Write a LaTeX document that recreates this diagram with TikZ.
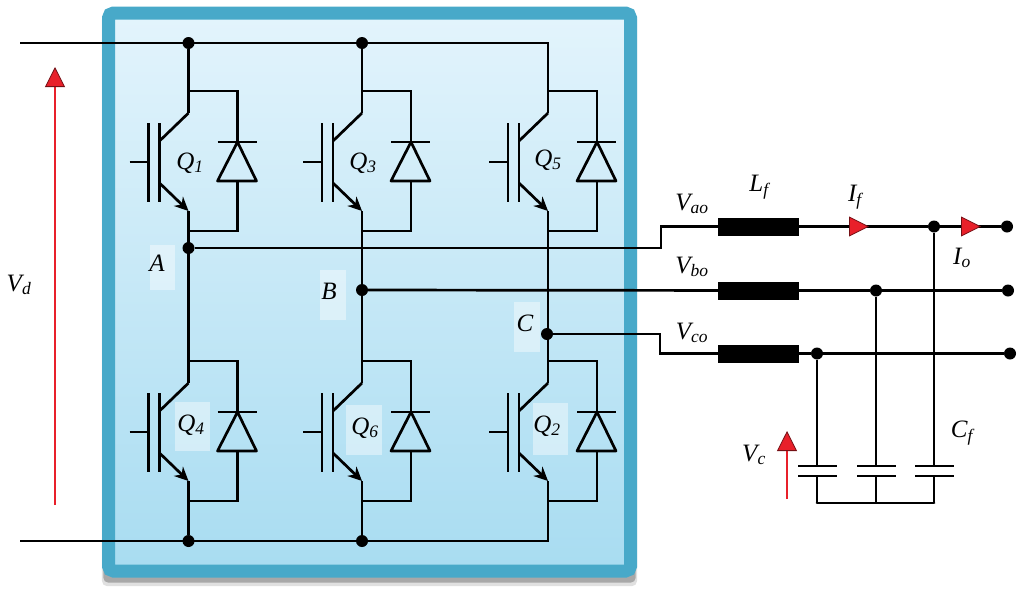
\documentclass[tikz,border=0pt]{standalone}
\usepackage{fontspec}
\setmainfont{Liberation Serif}
\usetikzlibrary{arrows.meta,shadows}
\definecolor{framecol}{HTML}{48A9C9}
\definecolor{paneltop}{HTML}{E3F4FC}
\definecolor{panelbot}{HTML}{A8DCF1}
\definecolor{redtip}{HTML}{E8202A}
\newcommand{\lbl}[2]{\textit{#1\textsubscript{#2}}}

\tikzset{
wire/.style={line width=2.7pt, black},
dot/.style={circle, fill=black, inner sep=0pt, minimum size=12pt},
choke/.style={rectangle, fill=black, inner sep=0pt, minimum width=81pt, minimum height=18pt},
tag/.style={font=\fontsize{25}{27}\selectfont, inner sep=1pt},
patch/.style={fill=white, fill opacity=.42},
tipred/.style={-{Triangle[length=20pt,width=20pt,fill=redtip,color=redtip!50!black,line width=.8pt]}},
vsense/.style={tipred, line width=2.6pt, redtip},
igbt/.pic={
	\draw[wire] (-40,-39) -- (-40,40);
	\draw[wire] (-29,-39) -- (-29,40);
	\draw[wire] (-59,0) -- (-40,0);
	\draw[wire] (-29,-21) -- (0,-49) coordinate (-col);
	\draw[wire,-{Stealth[length=14pt,width=13pt]}] (-29,21) -- (0,49) coordinate (-emi);
	\draw[wire] (0,-71) -| (49,-20);
	\draw[wire] (0,69) -| (49,19);
	\draw[wire] (29,-20) -- (68,-20);
	\draw[wire,line join=round] (49,-20) -- (68,19) -- (29,19) -- cycle;
}
}

\begin{document}
\begin{tikzpicture}[x=1pt,y=-1pt]
\useasboundingbox (0,0) rectangle (1017,592);

% panel
\node[rectangle, rounded corners=5pt, draw=framecol, line width=13pt,
	top color=paneltop, bottom color=panelbot,
	general shadow={shadow scale=1.025,shadow yshift=-8pt,fill=black,opacity=.12},
	general shadow={shadow scale=1.02,shadow yshift=-6pt,fill=black,opacity=.25},
	minimum width=522pt, minimum height=558pt, inner sep=0pt] (panel) at (369.5,292) {};

% light patches behind labels
\foreach \xa/\ya/\xb/\yb in {150/245/175/290,320/270/346/320,514/302/540/352,175/402/210/451,346/405/382/455,533/403/568/455}
	\fill[patch] (\xa,\ya) rectangle (\xb,\yb);

% switches
\foreach \name/\x/\y in {Q1/188.5/162,Q3/362/162,Q5/548/162,Q4/188.5/432,Q6/362/432,Q2/548/432}
	\pic (\name) at (\x,\y) {igbt};

% rails
\coordinate (topL) at (20,43);
\coordinate (botL) at (20,541);
\coordinate (topR) at (548,43);
\coordinate (botR) at (548,541);
\node[dot] (top1) at (188.5,43) {};
\node[dot] (top2) at (362,43) {};
\node[dot] (bot1) at (188.5,541) {};
\node[dot] (bot2) at (362,541) {};
\draw[wire] (topL) -- (topR) -- (Q5-col);
\draw[wire] (botL) -- (botR) -- (Q2-emi);
\draw[wire] (top1) -- (Q1-col);
\draw[wire] (top2) -- (Q3-col);
\draw[wire] (bot1) -- (Q4-emi);
\draw[wire] (bot2) -- (Q6-emi);

% legs
\node[dot] (A) at (188.5,248) {};
\node[dot] (B) at (362,290) {};
\node[dot] (C) at (547,334) {};
\draw[wire] (Q1-emi) -- (Q4-col);
\draw[wire] (Q3-emi) -- (Q6-col);
\draw[wire] (Q5-emi) -- (Q2-col);

% filter
\node[choke] (La) at (758.5,226.5) {};
\node[choke] (Lb) at (758.5,290.5) {};
\node[choke] (Lc) at (758.5,353.5) {};
\node[dot] (na) at (934,226.5) {};
\node[dot] (nb) at (876,290.5) {};
\node[dot] (nc) at (817,353.5) {};
\node[dot] (outa) at (1007,226.5) {};
\node[dot] (outb) at (1008,290.5) {};
\node[dot] (outc) at (1010,353.5) {};
\draw[wire] (A) -- (661,248) -- (661,226.5) -- (La);
\draw[wire] (B) -- (Lb);
\draw[wire] (C) -- (660,334) -- (660,353.5) -- (Lc);
\draw[wire] (La) -- (na) -- (outa);
\draw[wire] (Lb) -- (nb) -- (outb);
\draw[wire] (Lc) -- (nc) -- (outc);

% capacitors
\foreach \i/\x in {a/934,b/876,c/817}
{
	\coordinate (pl\i) at (\x,466);
	\coordinate (pr\i) at (\x,476);
	\coordinate (gnd\i) at (\x,503);
	\draw[wire] (n\i) -- (pl\i);
	\draw[wire] (pr\i) -- (gnd\i);
	\draw[wire] ([xshift=-19pt]pl\i) -- ([xshift=20pt]pl\i);
	\draw[wire] ([xshift=-19pt]pr\i) -- ([xshift=20pt]pr\i);
}
\draw[wire,line cap=round] (gndc) -- (gnda);

% arrows
\coordinate (vd0) at (55,505);
\coordinate (vd1) at (55,67);
\coordinate (vc0) at (787,499);
\coordinate (vc1) at (787,431);
\draw[vsense] (vd0) -- (vd1);
\draw[vsense] (vc0) -- (vc1);
\coordinate (if0) at (840,226.5);
\coordinate (if1) at (869,226.5);
\coordinate (io0) at (950,226.5);
\coordinate (io1) at (981,226.5);
\draw[wire,tipred] (if0) -- (if1);
\draw[wire,tipred] (io0) -- (io1);

% labels
\node[tag] (Q1l) at (190,163) {\lbl{Q}{1}};
\node[tag] (Q3l) at (363,163) {\lbl{Q}{3}};
\node[tag] (Q5l) at (548,160) {\lbl{Q}{5}};
\node[tag] (Q4l) at (191,425) {\lbl{Q}{4}};
\node[tag] (Q6l) at (365,428) {\lbl{Q}{6}};
\node[tag] (Q2l) at (547,426) {\lbl{Q}{2}};
\node[tag] (Al) at (157,263) {\textit{A}};
\node[tag] (Bl) at (329,291) {\textit{B}};
\node[tag] (Cl) at (525,323) {\textit{C}};
\node[tag] (Vd) at (19,285) {\lbl{V}{d}};
\node[tag] (Vao) at (692,204) {\lbl{V}{ao}};
\node[tag] (Vbo) at (692,267) {\lbl{V}{bo}};
\node[tag] (Vco) at (692,333) {\lbl{V}{co}};
\node[tag] (Lf) at (759,187) {\lbl{L}{f}};
\node[tag] (If) at (855,197) {\lbl{I}{f}};
\node[tag] (Io) at (962,258) {\lbl{I}{o}};
\node[tag] (Vc) at (754,455) {\lbl{V}{c}};
\node[tag] (Cf) at (962,433) {\lbl{C}{f}};
\end{tikzpicture}
\end{document}
